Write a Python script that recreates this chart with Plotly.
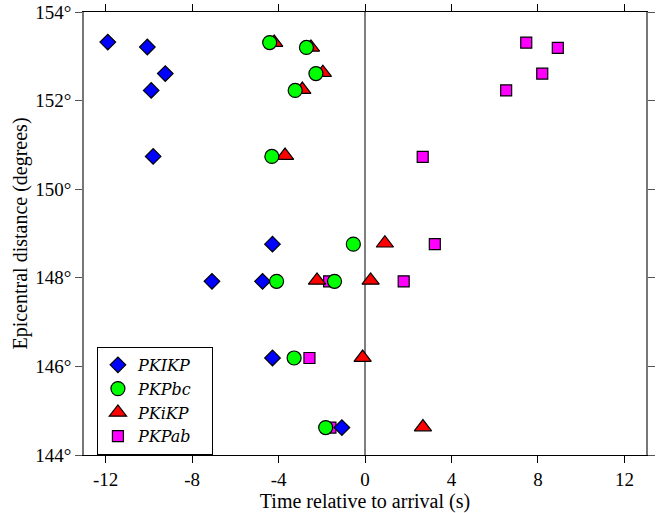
import plotly.graph_objects as go

# PKIKP (blue diamonds)
pkikp_t = [-11.9, -10.07, -9.24, -9.89, -9.8, -4.28, -7.08, -4.74, -4.28, -1.07]
pkikp_d = [153.32, 153.21, 152.61, 152.23, 150.74, 148.76, 147.92, 147.92, 146.19, 144.62]

# PKPbc (green circles)
pkpbc_t = [-4.41, -2.71, -2.27, -3.23, -4.31, -0.54, -4.09, -1.41, -3.28, -1.82]
pkpbc_d = [153.31, 153.2, 152.61, 152.23, 150.74, 148.76, 147.92, 147.92, 146.19, 144.62]

# PKiKP (red triangles)
pkikp2_t = [-4.2, -2.5, -1.95, -2.9, -3.7, 0.92, -2.22, 0.26, -0.11, 2.68]
pkikp2_d = [153.31, 153.2, 152.63, 152.25, 150.76, 148.78, 147.94, 147.94, 146.2, 144.63]

# PKPab (magenta squares)
pkpab_t = [7.46, 8.92, 8.2, 6.53, 2.67, 3.23, 1.79, -1.66, -2.57, -1.6]
pkpab_d = [153.31, 153.19, 152.61, 152.23, 150.73, 148.76, 147.92, 147.92, 146.19, 144.62]

x_ticks = [-12, -8, -4, 0, 4, 8, 12]
y_ticks = [144, 146, 148, 150, 152, 154]
y_tick_text = [f"{v}°" for v in y_ticks]

FONT = "Liberation Serif"
line = dict(color="black", width=1.2)
PAD = "&nbsp;&nbsp;&nbsp;"

fig = go.Figure()
# drawing order: squares, triangles, diamonds, circles (circles on top)
fig.add_trace(go.Scatter(x=pkpab_t, y=pkpab_d, mode="markers", name="<i>PKPab</i>" + PAD, legendrank=4,
                         marker=dict(symbol="square", size=11, color="#ff00ff", line=line)))
fig.add_trace(go.Scatter(x=pkikp2_t, y=pkikp2_d, mode="markers", name="<i>PKiKP</i>" + PAD, legendrank=3,
                         marker=dict(symbol="triangle-up", size=15, color="#ff0000", line=line)))
fig.add_trace(go.Scatter(x=pkikp_t, y=pkikp_d, mode="markers", name="<i>PKIKP</i>" + PAD, legendrank=1,
                         marker=dict(symbol="diamond", size=12, color="#0000ff", line=line)))
fig.add_trace(go.Scatter(x=pkpbc_t, y=pkpbc_d, mode="markers", name="<i>PKPbc</i>" + PAD, legendrank=2,
                         marker=dict(symbol="circle", size=14, color="#00ff00", line=line)))

fig.add_shape(type="line", xref="x", yref="paper", x0=0, x1=0, y0=0, y1=1,
              line=dict(color="#555555", width=1.5), layer="below")

fig.update_layout(
    width=664, height=513,
    margin=dict(l=84, r=18, t=12, b=58),
    paper_bgcolor="white", plot_bgcolor="white",
    font=dict(family=FONT, size=19, color="black"),
    showlegend=True,
    legend=dict(x=0.023, y=0.244, xanchor="left", yanchor="top",
                bordercolor="black", borderwidth=1, bgcolor="white",
                font=dict(family="DejaVu Serif", size=16), itemwidth=30,
                tracegroupgap=0),
    xaxis=dict(range=[-13, 13], tickvals=x_ticks, ticktext=[str(v) for v in x_ticks],
               showgrid=False, zeroline=False, showline=True, linecolor="black", linewidth=1.2,
               mirror="ticks", ticks="outside", ticklen=7, tickcolor="black",
               automargin=False, tickfont=dict(size=19), ticklabeloverflow="allow",
               title=dict(text="Time relative to arrival (s)", standoff=6,
                          font=dict(family=FONT, size=20))),
    yaxis=dict(range=[144, 154], tickvals=y_ticks, ticktext=y_tick_text,
               showgrid=False, zeroline=False, showline=True, linecolor="#777777", linewidth=1.5,
               mirror="ticks", ticks="outside", ticklen=7, tickcolor="#555555",
               automargin=False, tickfont=dict(size=19), ticklabeloverflow="allow",
               title=dict(text="Epicentral distance (degrees)", standoff=2,
                          font=dict(family=FONT, size=20))),
)

# remove the browser's default 8px page margin so the figure sits at the window origin
fig.write_html("out.html", config={"displayModeBar": False},
               post_script="document.body.style.margin='0';")
